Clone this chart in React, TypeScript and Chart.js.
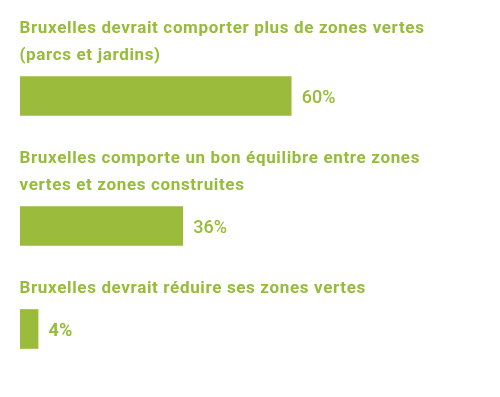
import { useEffect, useRef } from 'react';
import { Chart, registerables } from 'chart.js';

Chart.register(...registerables);

// ---- Data ----
const statements: string[][] = [
  ['Bruxelles devrait comporter plus de zones vertes', '(parcs et jardins)'],
  ['Bruxelles comporte un bon équilibre entre zones', 'vertes et zones construites'],
  ['Bruxelles devrait réduire ses zones vertes'],
];
const shares: number[] = [60, 36, 4];
const valueLabels: string[] = ['60%', '36%', '4%'];

// ---- Styles / layout ----
const BAR_COLOR = '#9bbb3c';
const TEXT_COLOR = '#96bc3a';
const TITLE_FONT = '700 17px Roboto';
const TITLE_SPACING = '0.65px';
const VALUE_FONTS = ['500 18px Roboto', '500 18px Roboto', '700 18px Roboto'];
const W = 500;
const H = 397;
const TOP = 21; // cap top of first title
const CAP = 12;
const LINE = 27;
const GAP = 16.5;
const BAR = 39;
const AFTER = 35.5;

type ItemLayout = { baselines: number[]; center: number };
const layout: ItemLayout[] = (() => {
  const out: ItemLayout[] = [];
  let cursor = TOP;
  statements.forEach((lines) => {
    const baselines = lines.map((_, k) => cursor + CAP + k * LINE);
    const barTop = baselines[baselines.length - 1] + GAP;
    out.push({ baselines, center: barTop + BAR / 2 });
    cursor = barTop + BAR + AFTER;
  });
  return out;
})();

const labelsPlugin = {
  id: 'statementLabels',
  afterDatasetsDraw(chart: any) {
    const { ctx, chartArea, scales } = chart;
    const meta = chart.getDatasetMeta(0);
    ctx.save();
    ctx.fillStyle = TEXT_COLOR;
    ctx.textAlign = 'left';
    ctx.textBaseline = 'alphabetic';
    statements.forEach((lines, i) => {
      ctx.font = TITLE_FONT;
      ctx.letterSpacing = TITLE_SPACING;
      lines.forEach((line, k) => {
        const y = scales.y.getPixelForValue(layout[i].baselines[k]);
        ctx.fillText(line, chartArea.left - 0.5, y);
      });
      const bar = meta.data[i];
      ctx.font = VALUE_FONTS[i];
      ctx.letterSpacing = '0px';
      ctx.fillText(valueLabels[i], bar.x + 10.5, bar.y + 6.5);
    });
    ctx.restore();
  },
};

export default function App() {
  const ref = useRef<HTMLCanvasElement>(null);
  useEffect(() => {
    document.body.style.margin = '0';
    const chart = new Chart(ref.current as HTMLCanvasElement, {
      type: 'bar',
      data: {
        datasets: [
          {
            data: shares.map((v, i) => ({ x: v, y: layout[i].center })) as any,
            backgroundColor: BAR_COLOR,
            borderWidth: 0,
            barThickness: BAR,
          },
        ],
      },
      options: {
        indexAxis: 'y',
        responsive: false,
        animation: false,
        devicePixelRatio: 1,
        events: [],
        layout: { autoPadding: false, padding: { left: 20, right: 28, top: 0, bottom: 0 } },
        plugins: { legend: { display: false }, tooltip: { enabled: false } },
        scales: {
          x: { type: 'linear', min: 0, max: 100, display: false, offset: false },
          y: { type: 'linear', min: 0, max: H, reverse: true, display: false, offset: false },
        },
      },
      plugins: [labelsPlugin],
    });
    return () => chart.destroy();
  }, []);
  return (
    <div style={{ width: W, height: H, position: 'relative', background: '#fff' }}>
      <canvas ref={ref} width={W} height={H} style={{ display: 'block' }} />
    </div>
  );
}
